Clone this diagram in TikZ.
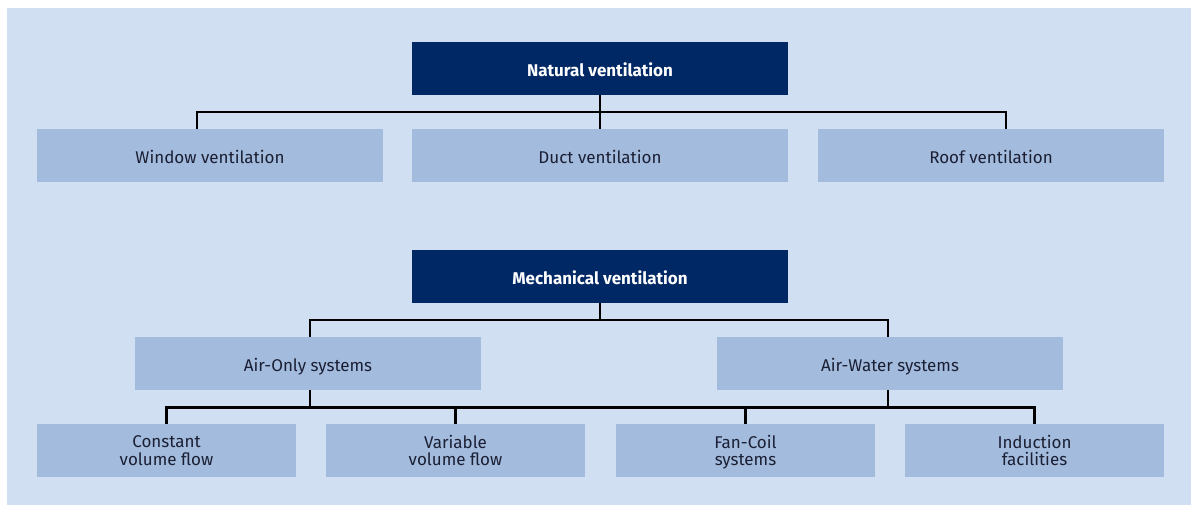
\documentclass[tikz,border=0pt]{standalone}
\usepackage{fontspec}
\setmainfont{Fira Sans}
\definecolor{bgblue}{HTML}{D0DFF1}
\definecolor{boxblue}{HTML}{A3BBDD}
\definecolor{navy}{HTML}{002864}
\definecolor{txt}{HTML}{1B1F33}
\begin{document}
\begin{tikzpicture}[x=1pt,y=-1pt,
  base/.style={inner sep=0pt, outer sep=0pt, align=center,
    font=\fontsize{17}{17.6}\selectfont},
  one/.style={text height=16pt, text depth=0pt},
  head/.style={base, one, fill=navy, text=white, minimum width=376pt, minimum height=53pt,
    font=\fontsize{17}{17.6}\selectfont\bfseries},
  sub/.style={base, fill=boxblue, text=txt, minimum height=53pt},
  wide/.style={sub, one, minimum width=346pt},
  narrow/.style={sub, text depth=0pt, minimum width=259pt},
  conn/.style={draw=black, line width=2.6pt}]
\useasboundingbox (0,0) rectangle (1191,505);
\fill[bgblue] (7,8) rectangle (1191,505);
% top tree
\node[head] (nat) at (600,68.5) {Natural ventilation};
\node[wide] (win) at (210,155.5) {Window ventilation};
\node[wide, minimum width=376pt] (duct) at (600,155.5) {Duct ventilation};
\node[wide] (roof) at (991,155.5) {Roof ventilation};
\coordinate (bA) at (197,112);
\coordinate (bB) at (1006,112);
\draw[conn] (nat.south) -- (duct.north);
\draw[conn] (win.north -| bA) -- (bA) -- (bB) -- (roof.north -| bB);
% bottom tree
\node[head] (mech) at (600,276) {Mechanical ventilation};
\node[wide] (air) at (308,363.5) {Air-Only systems};
\node[wide] (aw) at (890,363.5) {Air-Water systems};
\node[narrow] (cvf) at (166.5,450.5) {Constant\\volume flow};
\node[narrow] (vvf) at (455.5,450.5) {Variable\\volume flow};
\node[narrow] (fc) at (745.5,450.5) {Fan-Coil\\systems};
\node[narrow] (ind) at (1034.5,450.5) {Induction\\facilities};
\coordinate (m) at (600,320);
\coordinate (b) at (600,407.5);
\draw[conn] (mech.south) -- (m);
\draw[conn] (air.north -| 310,0) |- (m) -| (aw.north -| 888,0);
\draw[conn] (air.south -| 310,0) -- (b -| 310,0);
\draw[conn] (aw.south -| 888,0) -- (b -| 888,0);
\draw[conn] (cvf.north) |- (b) -| (ind.north);
\draw[conn] (vvf.north) -- (vvf.north |- b);
\draw[conn] (fc.north) -- (fc.north |- b);
\end{tikzpicture}
\end{document}
